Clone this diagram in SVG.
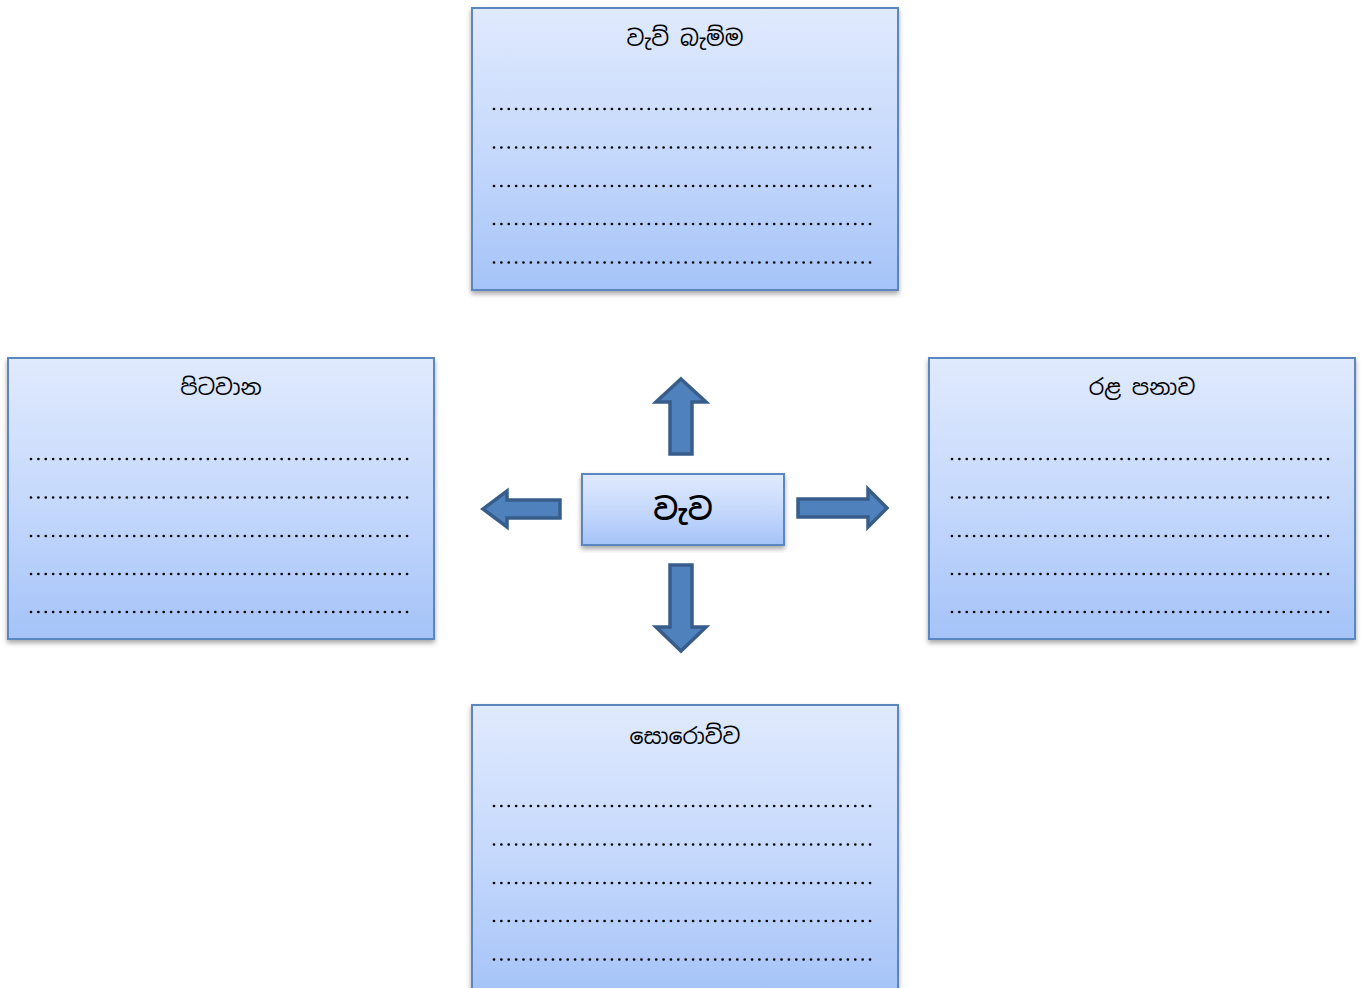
<svg xmlns="http://www.w3.org/2000/svg" width="1363" height="988" viewBox="0 0 1363 988">
<defs>
<linearGradient id="g" x1="0" y1="0" x2="0" y2="1">
<stop offset="0" stop-color="#e0eafd"/>
<stop offset="0.5" stop-color="#c6d9fc"/>
<stop offset="1" stop-color="#a5c3f8"/>
</linearGradient>
<filter id="sh" x="-5%" y="-5%" width="110%" height="115%">
<feDropShadow dx="0" dy="3" stdDeviation="2.5" flood-color="#000" flood-opacity="0.35"/>
</filter>
</defs>
<style>
.box{fill:url(#g);stroke:#5b86c0;stroke-width:2;filter:url(#sh)}
.t{font-family:"Iskoola Pota","Noto Sans Sinhala","Noto Serif Sinhala","Noto Sans",sans-serif;font-size:22px;fill:#000;text-anchor:middle}
.big{font-size:30px;font-weight:600}
.dot{stroke:#000;stroke-width:2.7;stroke-linecap:round;stroke-dasharray:0 7.373;fill:none}
.arr{fill:#4f81bd;stroke:#385d8a;stroke-width:3.5;stroke-linejoin:miter}
</style>
<rect width="1363" height="988" fill="#fff"/>
<g id="top">
<rect class="box" x="472" y="8" width="426" height="282"/>
<text class="t" x="685" y="46">වැව් බැම්ම</text>
<path class="dot" d="M494 109H870.1M494 147.5H870.1M494 186H870.1M494 224H870.1M494 262.5H870.1"/>
</g>
<g id="left">
<rect class="box" x="8" y="358" width="426" height="281"/>
<text class="t" x="221" y="395">පිටවාන</text>
<path class="dot" d="M31 459H407.1M31 497.5H407.1M31 536H407.1M31 574H407.1M31 612H407.1"/>
</g>
<g id="right">
<rect class="box" x="929" y="358" width="426" height="281"/>
<text class="t" x="1142" y="395">රළ පනාව</text>
<path class="dot" d="M952 459H1328.1M952 497.5H1328.1M952 536H1328.1M952 574H1328.1M952 612H1328.1"/>
</g>
<g id="bottom">
<rect class="box" x="472" y="705" width="426" height="290"/>
<text class="t" x="685" y="744">සොරොව්ව</text>
<path class="dot" d="M494 806H870.1M494 844.5H870.1M494 883H870.1M494 921H870.1M494 959.5H870.1"/>
</g>
<g id="center">
<rect class="box" x="582" y="474" width="202" height="71"/>
<text class="t big" x="683" y="520">වැව</text>
</g>
<g id="connectors">
<polygon class="arr" points="681,379 706,402 692,402 692,454 670,454 670,402 656,402"/>
<polygon class="arr" points="670,565 692,565 692,627 706,627 681,651 656,627 670,627"/>
<polygon class="arr" points="798,499 868,499 868,489 887,508 868,527 868,517 798,517"/>
<polygon class="arr" points="560,500 507,500 507,491 483,509 507,527 507,518 560,518"/>
</g>
</svg>
